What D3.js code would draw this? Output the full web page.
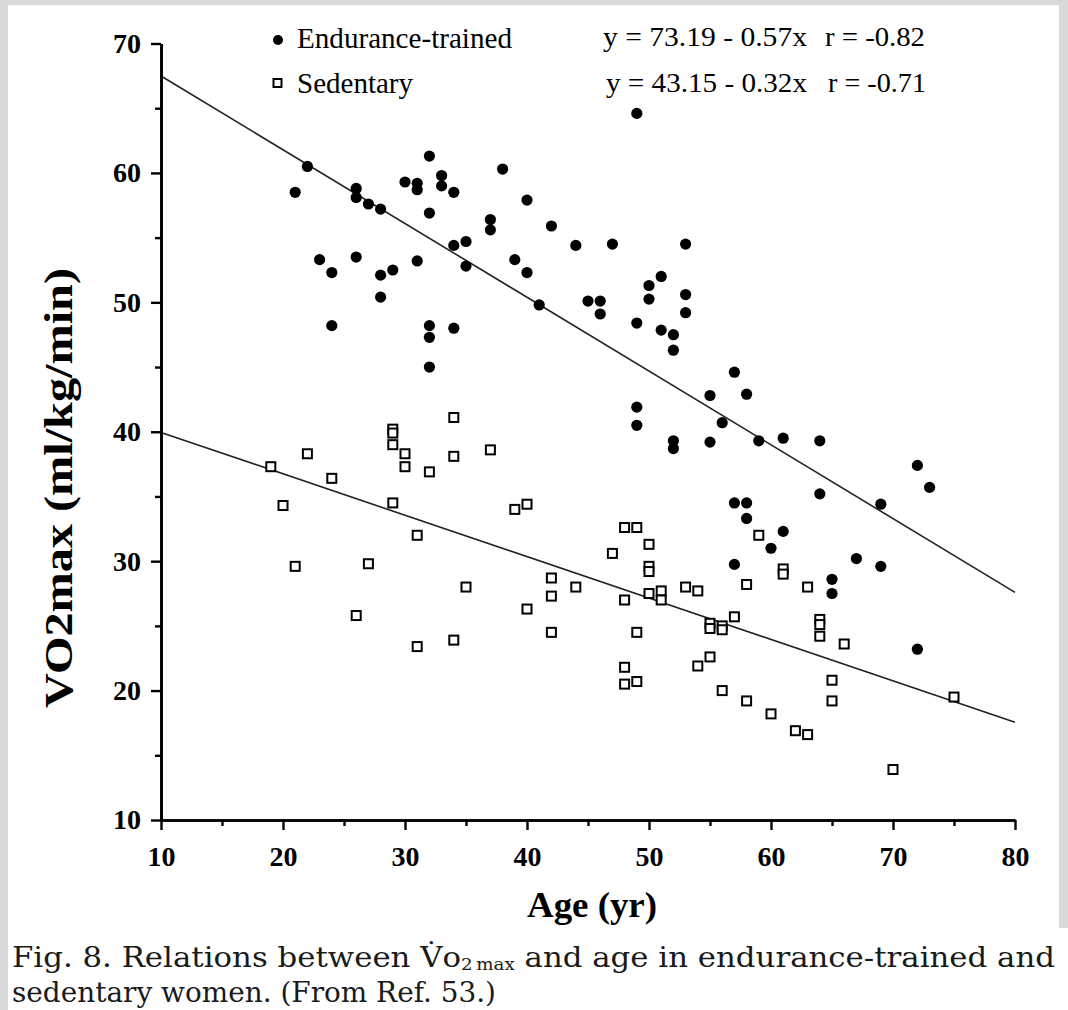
<!DOCTYPE html>
<html><head><meta charset="utf-8">
<script src="https://cdn.jsdelivr.net/npm/d3@7"></script>
<style>body{margin:0;background:#fff}svg{display:block}</style>
</head><body>
<script>
// ---- data ----
const trainedAge = [21,22,23,24,24,26,26,26,27,28,28,28,29,30,31,31,31,32,32,32,32,32,33,33,34,34,34,35,35,37,37,38,39,40,40,41,42,44,45,46,46,47,49,49,49,49,50,50,51,51,52,52,52,52,53,53,53,55,55,56,57,57,57,58,58,58,59,60,61,61,64,64,65,65,67,69,69,72,72,73];
const trainedVO2 = [58.5,60.5,53.3,52.3,48.2,58.8,58.1,53.5,57.6,57.2,52.1,50.4,52.5,59.3,59.2,58.7,53.2,61.3,56.9,48.2,47.3,45.0,59.8,59.0,58.5,54.4,48.0,54.7,52.8,56.4,55.6,60.3,53.3,57.9,52.3,49.8,55.9,54.4,50.1,50.1,49.1,54.5,64.6,48.4,41.9,40.5,51.3,50.25,52.0,47.85,47.5,46.3,39.3,38.7,54.5,50.6,49.2,42.8,39.2,40.7,44.6,34.5,29.75,42.9,34.5,33.3,39.3,31.0,39.5,32.3,39.3,35.2,28.6,27.5,30.2,34.4,29.6,37.4,23.2,35.7];
const sedentaryAge = [19,20,21,22,24,26,27,29,29,29,29,30,30,31,31,32,34,34,34,35,37,39,40,40,42,42,42,44,47,48,48,48,48,49,49,49,50,50,50,50,51,51,53,54,54,55,55,55,56,56,56,57,58,58,59,60,61,61,62,63,63,64,64,64,65,65,66,70,75];
const sedentaryVO2 = [37.3,34.3,29.6,38.3,36.4,25.8,29.8,40.2,39.9,39.0,34.5,38.3,37.3,32.0,23.4,36.9,41.1,38.1,23.9,28.0,38.6,34.0,34.4,26.3,28.7,27.3,24.5,28.0,30.6,32.6,27.0,21.8,20.5,32.6,24.5,20.7,31.3,29.6,29.2,27.5,27.7,27.0,28.0,27.7,21.9,25.2,24.8,22.6,25.0,24.7,20.0,25.7,28.2,19.2,32.0,18.2,29.4,29.0,16.9,28.0,16.6,25.5,25.1,24.2,20.8,19.2,23.6,13.9,19.5];
const fitTrained = [73.19, -0.57];     // intercept, slope
const fitSedentary = [43.15, -0.32];
const xDomain = [10, 80];
const yDomain = [10, 70];
const xMajorTicks = [10,20,30,40,50,60,70,80];
const xMinorTicks = [15,25,35,45,55,65,75];
const yMajorTicks = [10,20,30,40,50,60,70];
const yMinorTicks = [15,25,35,45,55,65];
const legendLabels = ["Endurance-trained", "Sedentary"];
const equationLabels = ["y = 73.19 - 0.57x", "y = 43.15 - 0.32x"];
const rLabels = ["r = -0.82", "r = -0.71"];
const xTitle = "Age (yr)";
const yTitle = "VO2max (ml/kg/min)";

// ---- drawing ----
const W = 1068, H = 1010;
const svg = d3.select("body").append("svg").attr("width", W).attr("height", H);
svg.append("rect").attr("width", W).attr("height", H).attr("fill", "#d9d9d9");
svg.append("rect").attr("x", 8).attr("y", 5).attr("width", W - 8).attr("height", H - 5).attr("fill", "#fff");
svg.append("rect").attr("x", 1059).attr("y", 0).attr("width", 9).attr("height", 928).attr("fill", "#d9d9d9");

const x = d3.scaleLinear().domain(xDomain).range([161, 1015]);
const y = d3.scaleLinear().domain(yDomain).range([820, 43.5]);
const serif = "'Liberation Serif', 'Times New Roman', serif";

// regression lines
const line = d3.line().x(d => x(d[0])).y(d => y(d[1]));
[fitTrained, fitSedentary].forEach(f => {
  svg.append("path")
    .attr("d", line(xDomain.map(v => [v, f[0] + f[1] * v])))
    .attr("fill", "none").attr("stroke", "#222").attr("stroke-width", 1.6);
});

// axes
function styleAxis(g) {
  g.selectAll("path.domain").attr("stroke", "#000").attr("stroke-width", 2.6);
  g.selectAll(".tick line").attr("stroke", "#000").attr("stroke-width", 2.4);
  g.selectAll("text").attr("font-family", serif).attr("font-weight", "bold").attr("font-size", 28).attr("fill", "#000");
}
svg.append("g").attr("transform", "translate(0,820)")
  .call(d3.axisBottom(x).tickValues(xMinorTicks).tickSize(6).tickFormat("").tickSizeOuter(0))
  .call(styleAxis);
svg.append("g").attr("transform", "translate(0,820)")
  .call(d3.axisBottom(x).tickValues(xMajorTicks).tickSize(10).tickPadding(16).tickSizeOuter(0))
  .call(styleAxis);
svg.append("g").attr("transform", "translate(161,0)")
  .call(d3.axisLeft(y).tickValues(yMinorTicks).tickSize(6).tickFormat("").tickSizeOuter(0))
  .call(styleAxis);
svg.append("g").attr("transform", "translate(161,0)")
  .call(d3.axisLeft(y).tickValues(yMajorTicks).tickSize(10).tickPadding(10).tickSizeOuter(0))
  .call(styleAxis);

// points
svg.append("g").selectAll("rect")
  .data(sedentaryAge.map((a, i) => [a, sedentaryVO2[i]]))
  .join("rect")
  .attr("x", d => x(d[0]) - 4.5).attr("y", d => y(d[1]) - 4.5)
  .attr("width", 9).attr("height", 9)
  .attr("fill", "#fff").attr("stroke", "#000").attr("stroke-width", 2);
svg.append("g").selectAll("circle")
  .data(trainedAge.map((a, i) => [a, trainedVO2[i]]))
  .join("circle")
  .attr("cx", d => x(d[0])).attr("cy", d => y(d[1])).attr("r", 5.6)
  .attr("fill", "#000");

// legend
svg.append("circle").attr("cx", 278).attr("cy", 40).attr("r", 5).attr("fill", "#000");
svg.append("rect").attr("x", 273.5).attr("y", 79).attr("width", 8).attr("height", 8)
  .attr("fill", "#fff").attr("stroke", "#000").attr("stroke-width", 2);
const legW = [215, 116];
legendLabels.forEach((t, i) => {
  svg.append("text").attr("x", 297).attr("y", 48 + i * 45)
    .attr("font-family", serif).attr("font-size", 29).attr("fill", "#000")
    .attr("textLength", legW[i]).attr("lengthAdjust", "spacingAndGlyphs").text(t);
});
const eqX = [603, 606], eqW = [204, 201], rX = [825, 828], rW = [100, 98];
equationLabels.forEach((t, i) => {
  svg.append("text").attr("x", eqX[i]).attr("y", 46 + i * 46)
    .attr("font-family", serif).attr("font-size", 28).attr("fill", "#000")
    .attr("textLength", eqW[i]).attr("lengthAdjust", "spacingAndGlyphs").text(t);
  svg.append("text").attr("x", rX[i]).attr("y", 46 + i * 46)
    .attr("font-family", serif).attr("font-size", 28).attr("fill", "#000")
    .attr("textLength", rW[i]).attr("lengthAdjust", "spacingAndGlyphs").text(rLabels[i]);
});

// axis titles
svg.append("text").attr("x", 592).attr("y", 917).attr("text-anchor", "middle")
  .attr("font-family", serif).attr("font-weight", "bold").attr("font-size", 36).attr("fill", "#000")
  .attr("textLength", 130).attr("lengthAdjust", "spacingAndGlyphs").text(xTitle);
svg.append("text").attr("transform", "translate(72,488) rotate(-90)").attr("text-anchor", "middle")
  .attr("font-family", serif).attr("font-weight", "bold").attr("font-size", 39).attr("fill", "#000")
  .attr("textLength", 440).attr("lengthAdjust", "spacingAndGlyphs")
  .text(yTitle);

// caption
const cap = svg.append("text").attr("x", 12).attr("y", 967)
  .attr("font-family", "'DejaVu Serif', serif").attr("font-size", 27).attr("fill", "#1a1a1a")
  .attr("textLength", 1043).attr("lengthAdjust", "spacingAndGlyphs");
cap.append("tspan").text("Fig. 8.  Relations between V\u0307o");
cap.append("tspan").attr("font-size", 16).attr("dy", 3).text("2\u2009max");
cap.append("tspan").attr("dy", -3).text(" and age in endurance-trained and");
svg.append("text").attr("x", 12).attr("y", 1002)
  .attr("font-family", "'DejaVu Serif', serif").attr("font-size", 27).attr("fill", "#1a1a1a")
  .attr("textLength", 484).attr("lengthAdjust", "spacingAndGlyphs")
  .text("sedentary women. (From Ref. 53.)");
</script>
</body></html>
